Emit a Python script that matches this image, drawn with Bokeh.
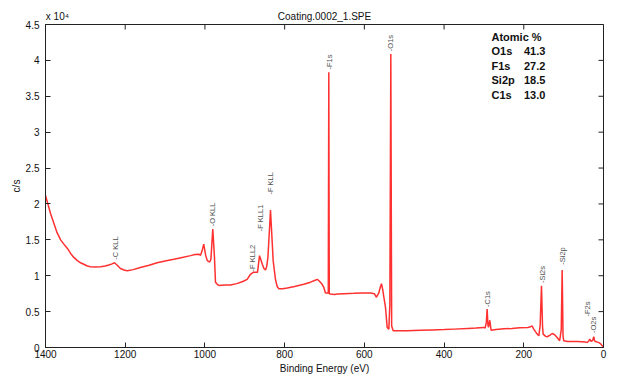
import math
from bokeh.plotting import figure
from bokeh.models import Range1d, FixedTicker, LinearAxis, Label, ColumnDataSource
from bokeh.core.properties import value
from bokeh.embed import file_html
from bokeh.resources import INLINE

# ---- spectrum (binding energy eV, counts per second) ----
energy = [1400, 1394, 1387, 1379, 1371, 1362, 1354, 1345, 1337, 1329, 1320, 1312, 1304, 1295,
          1287, 1275, 1262, 1250, 1241, 1233, 1227, 1220, 1212, 1203, 1195, 1180, 1162, 1140,
          1120, 1100, 1078, 1057, 1036, 1025, 1015, 1011, 1007, 1003, 998, 994, 988, 985,
          980.3, 976, 973.5, 969, 965, 950, 936, 920, 905, 894, 885.7, 878, 873, 868, 863,
          860, 856, 852, 848, 845, 842, 838, 835.5, 832, 828.8, 823, 818.7, 815, 805, 793.6,
          775, 752, 735, 722, 718, 712, 706, 702, 697.5, 692, 690.5, 689.2, 688, 684.8, 675,
          668, 650, 626.5, 605, 584.6, 575, 569.6, 563.8, 560, 557, 554, 551, 547, 542.7,
          538.5, 537, 536, 533.6, 531.5, 527.7, 520, 500, 492.6, 459, 430, 400, 375, 340, 320,
          300.4, 297, 294, 292, 290, 288.6, 285.3, 282, 270, 250, 230, 210, 190, 183, 179,
          175, 168, 162.3, 159, 155.6, 153, 151.4, 145, 141.4, 135, 128.8, 122, 116.3, 110,
          106, 103.7, 101.5, 99.6, 90, 80, 66, 55, 45, 41, 37, 34.5, 31, 27, 24.4, 22, 20,
          15, 11.8, 7, 3.4, 0]
counts = [21200, 20000, 18600, 17300, 16000, 15000, 14400, 13800, 13100, 12550, 12100, 11800,
          11600, 11350, 11250, 11200, 11250, 11350, 11500, 11650, 11800, 11450, 11000, 10800,
          10700, 10850, 11150, 11450, 11800, 12050, 12300, 12550, 12800, 12950, 13000, 12850,
          13500, 14400, 12800, 12100, 11900, 12300, 16500, 12500, 9100, 8800, 8650, 8700, 8700,
          8900, 9200, 9500, 10200, 10500, 10500, 10500, 12800, 12300, 11600, 11000, 10800,
          11300, 12550, 16500, 19150, 15500, 12100, 9500, 8500, 8200, 8200, 8300, 8500, 8800,
          9100, 9400, 9500, 9200, 8800, 8400, 7600, 7600, 7600, 38350, 7500, 7450, 7400, 7450,
          7500, 7550, 7600, 7600, 7500, 7000, 7600, 8400, 8900, 8100, 7000, 5600, 2800, 2560,
          4700, 6000, 40900, 3000, 2330, 2330, 2350, 2330, 2400, 2450, 2500, 2560, 2650, 2700,
          2800, 2700, 3500, 5350, 3200, 2800, 3800, 2400, 2500, 2600, 2650, 2750, 2800, 2900,
          3000, 2560, 2000, 1630, 3000, 8600, 3000, 1870, 1550, 1500, 1700, 1950, 1750, 1400,
          950, 2500, 10800, 1500, 930, 850, 840, 840, 800, 750, 700, 900, 1170, 840, 1000,
          1500, 900, 840, 750, 700, 500, 240, 150]

# ---- peak annotations ----
peak_names = ["-C KLL", "-O KLL", "-F KLL2", "-F KLL1", "-F KLL", "-F1s", "-O1s",
              "-C1s", "-Si2s", "-Si2p", "-F2s", "-O2s"]
peak_energy = [1224.4, 980.3, 881.5, 860.6, 835.5, 687.5, 534.5, 291.9, 153.9, 103.7, 41, 24.4]
peak_label_y = [12090, 16740, 10460, 16040, 21160, 38590, 41140, 5500, 8840, 11390, 4180, 1870]

# ---- atomic composition ----
atomic_names = ["O1s", "F1s", "Si2p", "C1s"]
atomic_values = ["41.3", "27.2", "18.5", "13.0"]

title_text = "Coating.0002_1.SPE"
multiplier_text = "x 10\u2074"

x_ticks = [0, 200, 400, 600, 800, 1000, 1200, 1400]
y_ticks = [0, 5000, 10000, 15000, 20000, 25000, 30000, 35000, 40000, 45000]
y_tick_labels = ["0", "0.5", "1", "1.5", "2", "2.5", "3", "3.5", "4", "4.5"]

FONT = "Liberation Sans"
AX = "#222222"
TXT = "#111111"

p = figure(width=640, height=386, output_backend="svg", toolbar_location=None,
           x_range=Range1d(1400, 0), y_range=Range1d(0, 45000),
           min_border_left=45, min_border_right=37, min_border_top=24, min_border_bottom=39,
           x_axis_label="Binding Energy (eV)", y_axis_label="c/s")
p.grid.visible = False
p.outline_line_color = AX
p.outline_line_width = 1
p.background_fill_color = "white"
p.border_fill_color = "white"


def style_axis(ax):
    ax.major_tick_in = 5
    ax.major_tick_out = 0
    ax.minor_tick_in = 0
    ax.minor_tick_out = 0
    ax.axis_line_color = AX
    ax.major_tick_line_color = AX
    ax.major_label_text_font = FONT
    ax.major_label_text_font_size = "10px"
    ax.major_label_text_color = TXT
    ax.axis_label_text_font = FONT
    ax.axis_label_text_font_size = "10px"
    ax.axis_label_text_font_style = "normal"
    ax.axis_label_text_color = TXT


xa = p.xaxis[0]
xa.ticker = FixedTicker(ticks=x_ticks)
style_axis(xa)
xa.major_label_standoff = 2
xa.axis_label_standoff = 2

ya = p.yaxis[0]
ya.ticker = FixedTicker(ticks=y_ticks)
ya.major_label_overrides = {t: s for t, s in zip(y_ticks, y_tick_labels)}
style_axis(ya)
ya.major_label_standoff = 6
ya.axis_label_standoff = 1

# top axis carrying the title and the multiplier as its labels (no ticks, no line)
top = LinearAxis(ticker=FixedTicker(ticks=[1370, 700]),
                 major_label_overrides={1370: multiplier_text, 700: title_text})
style_axis(top)
top.axis_line_color = None
top.major_tick_line_color = None
top.major_tick_in = 0
top.major_label_standoff = 3
p.add_layout(top, "above")

# inside tick marks on the top and right edges (clipped half-dashes)
p.scatter(x=x_ticks, y=[45000] * len(x_ticks), marker="dash", size=10, angle=math.pi / 2,
          line_color=AX, line_width=1)
p.scatter(x=[0] * len(y_ticks), y=y_ticks, marker="dash", size=10,
          line_color=AX, line_width=1)

# spectrum
p.line(energy, counts, line_color="#ff3030", line_width=1.5)

# peak labels
src = ColumnDataSource(dict(x=peak_energy, y=peak_label_y, t=peak_names))
p.text(x="x", y="y", text="t", source=src, angle=math.pi / 2, text_align="left",
       text_baseline="middle", text_font=value(FONT), text_font_size="7.5px",
       text_color="#505050", y_offset=-1)

# atomic % box
atom_y = [41240, 39220, 37200, 35240]
p.add_layout(Label(x=281, y=43190, text="Atomic %", text_font=FONT, text_font_size="11px",
                   text_font_style="bold", text_baseline="middle", text_color=TXT))
asrc = ColumnDataSource(dict(n=atomic_names, v=atomic_values, y=atom_y))
p.text(x=281, y="y", text="n", source=asrc, text_font=value(FONT), text_font_size="11px",
       text_font_style="bold", text_baseline="middle", text_color=TXT)
p.text(x=146, y="y", text="v", source=asrc, text_font=value(FONT), text_font_size="11px",
       text_font_style="bold", text_baseline="middle", text_align="right", text_color=TXT)

open("out.html", "w").write(file_html(p, INLINE))
